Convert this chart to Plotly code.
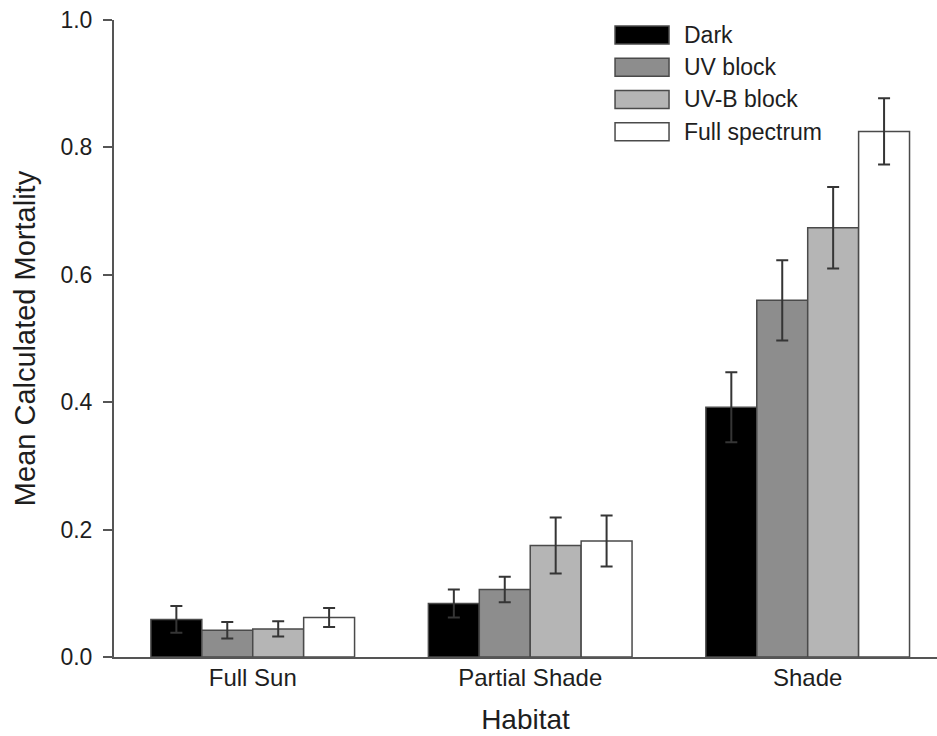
import plotly.graph_objects as go

# Habitat categories and treatment series (mean calculated mortality, +/- SE)
habitats = ["Full Sun", "Partial Shade", "Shade"]
treatments = ["Dark", "UV block", "UV-B block", "Full spectrum"]

dark = [0.059, 0.084, 0.392]
dark_err = [0.021, 0.022, 0.055]
uv_block = [0.042, 0.106, 0.560]
uv_block_err = [0.013, 0.020, 0.063]
uvb_block = [0.044, 0.175, 0.674]
uvb_block_err = [0.012, 0.044, 0.064]
full_spectrum = [0.062, 0.182, 0.825]
full_spectrum_err = [0.015, 0.040, 0.052]

y_ticks = [0.0, 0.2, 0.4, 0.6, 0.8, 1.0]

values = [dark, uv_block, uvb_block, full_spectrum]
errors = [dark_err, uv_block_err, uvb_block_err, full_spectrum_err]
fills = ["#000000", "#8d8d8d", "#b5b5b5", "#ffffff"]

FONT = "Liberation Sans, Arial, sans-serif"
TEXT = "#1e1e1e"
AXIS = "#555555"

fig = go.Figure()
for name, vals, errs, fill in zip(treatments, values, errors, fills):
    fig.add_trace(go.Bar(
        name=name,
        x=habitats,
        y=vals,
        marker=dict(color=fill, line=dict(color="#4a4a4a", width=1.5)),
        error_y=dict(type="data", array=errs, visible=True,
                     color="#353535", thickness=2, width=6),
        showlegend=False,
    ))

# Legend drawn as wide swatches with labels at the upper right
sw_x0, sw_x1, txt_x = 0.6088, 0.6744, 0.6898
row_top, row_step, sw_half = 0.9765, 0.0506, 0.0141
for i, (name, fill) in enumerate(zip(treatments, fills)):
    yc = row_top - i * row_step
    fig.add_shape(type="rect", xref="paper", yref="paper",
                  x0=sw_x0, x1=sw_x1, y0=yc - sw_half, y1=yc + sw_half,
                  fillcolor=fill, line=dict(color="#4a4a4a", width=1.5))
    fig.add_annotation(xref="paper", yref="paper", x=txt_x, y=yc,
                       text=name, showarrow=False, xanchor="left",
                       yanchor="middle",
                       font=dict(family=FONT, size=23, color=TEXT))

fig.update_layout(
    width=937, height=736,
    margin=dict(l=114, r=0, t=20, b=78.5),
    paper_bgcolor="white", plot_bgcolor="white",
    barmode="group", bargap=0.266, bargroupgap=0,
    font=dict(family=FONT, color=TEXT),
    xaxis=dict(
        range=[-0.5, 2.466],
        showline=True, linecolor=AXIS, linewidth=2,
        ticks="", showgrid=False, zeroline=False,
        tickfont=dict(size=24, color=TEXT),
        ticklabelstandoff=-2,
        title=dict(text="Habitat", font=dict(size=28, color=TEXT), standoff=20),
    ),
    yaxis=dict(
        range=[0, 1.0],
        tickvals=y_ticks, tickformat=".1f",
        showline=True, linecolor=AXIS, linewidth=2,
        ticks="outside", ticklen=9, tickwidth=1.5, tickcolor=AXIS,
        showgrid=False, zeroline=False,
        tickfont=dict(size=23, color=TEXT),
        ticklabelstandoff=6,
        title=dict(text="Mean Calculated Mortality",
                   font=dict(size=29, color=TEXT), standoff=16),
    ),
)

fig.write_html("out.html")
